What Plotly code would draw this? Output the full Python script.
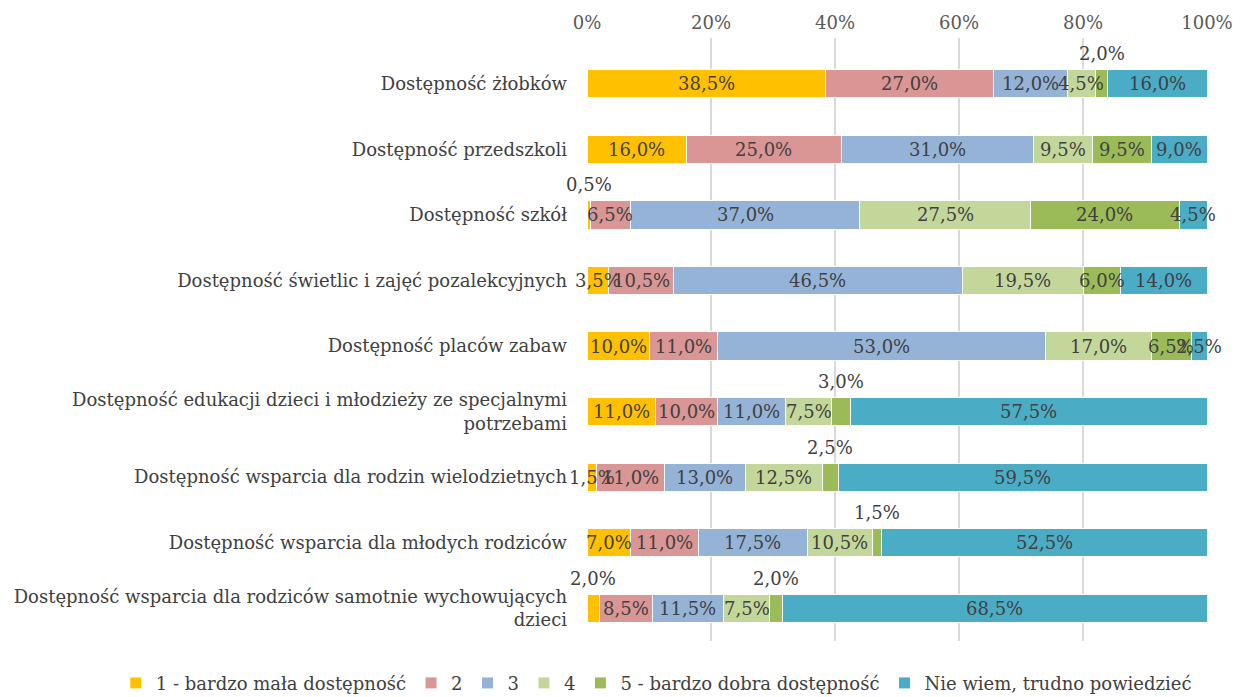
import plotly.graph_objects as go

categories = [
    "Dostępność żłobków",
    "Dostępność przedszkoli",
    "Dostępność szkół",
    "Dostępność świetlic i zajęć pozalekcyjnych",
    "Dostępność placów zabaw",
    "Dostępność edukacji dzieci i młodzieży ze specjalnymi<br>potrzebami",
    "Dostępność wsparcia dla rodzin wielodzietnych",
    "Dostępność wsparcia dla młodych rodziców",
    "Dostępność wsparcia dla rodziców samotnie wychowujących<br>dzieci",
]
series_names = ["1 - bardzo mała dostępność", "2", "3", "4",
                "5 - bardzo dobra dostępność", "Nie wiem, trudno powiedzieć"]
s1 = [38.5, 16.0, 0.5, 3.5, 10.0, 11.0, 1.5, 7.0, 2.0]
s2 = [27.0, 25.0, 6.5, 10.5, 11.0, 10.0, 11.0, 11.0, 8.5]
s3 = [12.0, 31.0, 37.0, 46.5, 53.0, 11.0, 13.0, 17.5, 11.5]
s4 = [4.5, 9.5, 27.5, 19.5, 17.0, 7.5, 12.5, 10.5, 7.5]
s5 = [2.0, 9.5, 24.0, 6.0, 6.5, 3.0, 2.5, 1.5, 2.0]
s6 = [16.0, 9.0, 4.5, 14.0, 2.5, 57.5, 59.5, 52.5, 68.5]
series = [s1, s2, s3, s4, s5, s6]
colors = ["#FFC000", "#DA9694", "#95B3D7", "#C4D79B", "#9BBB59", "#4BACC6"]

# labels shown as callouts above the bar: (series index, category index)
callouts = [(4, 0), (0, 2), (4, 5), (4, 6), (4, 7), (0, 8), (4, 8)]

FONT = "DejaVu Serif"
TXT = "#404040"
FS = 18


def fmt(v):
    return f"{v:.1f}".replace(".", ",") + "%"


fig = go.Figure()
for si, (name, vals, col) in enumerate(zip(series_names, series, colors)):
    fig.add_trace(go.Bar(
        y=list(range(len(categories))), x=vals, name=name, orientation="h",
        marker=dict(color=col, line=dict(color="white", width=1)),
        hoverinfo="skip",
    ))

annotations = []
for si, vals in enumerate(series):
    for ci, v in enumerate(vals):
        start = sum(series[k][ci] for k in range(si))
        center = start + v / 2
        is_call = (si, ci) in callouts
        annotations.append(dict(
            x=center, y=ci, xref="x", yref="y", text=fmt(v),
            showarrow=False, yshift=30 if is_call else 0,
            font=dict(family=FONT, size=FS, color=TXT),
        ))

fig.update_layout(
    width=1233, height=689,
    barmode="stack", bargap=0.57,
    plot_bgcolor="white", paper_bgcolor="white",
    margin=dict(l=579, r=34, t=30, b=56, autoexpand=False),
    font=dict(family=FONT, size=FS, color=TXT),
    annotations=annotations,
    legend=dict(orientation="h", xref="paper", yref="paper",
                x=-0.76, xanchor="left", y=-0.070, yanchor="middle",
                font=dict(family=FONT, size=FS, color=TXT),
                traceorder="normal", itemwidth=30),
    xaxis=dict(side="top", range=[0, 100], dtick=20, ticksuffix="%",
               showgrid=True, gridcolor="#D9D9D9", gridwidth=1.5,
               zeroline=False, showline=False, ticklabelstandoff=4,
               tickfont=dict(family=FONT, size=FS, color="#595959")),
    yaxis=dict(tickmode="array", tickvals=list(range(len(categories))),
               ticktext=categories, range=[8.5, -0.7],
               showgrid=False, zeroline=False, showline=False,
               ticklabelstandoff=19,
               tickfont=dict(family=FONT, size=FS, color=TXT)),
)

fig.write_html("out.html")
